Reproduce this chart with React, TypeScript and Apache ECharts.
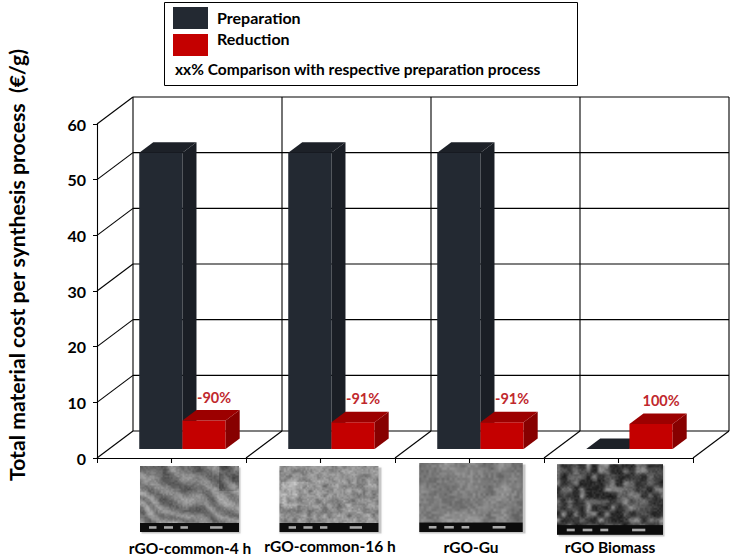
import React, { useEffect, useRef } from "react";
import * as echarts from "echarts";

const categories = ["rGO-common-4 h", "rGO-common-16 h", "rGO-Gu", "rGO Biomass"];
const preparationCost = [53.2, 53.2, 53.2, 0];
const reductionCost = [5.1, 4.8, 4.8, 4.5];
const reductionLabels = ["-90%", "-91%", "-91%", "100%"];
const yTicks = [0, 10, 20, 30, 40, 50, 60];
const seriesNames = ["Preparation", "Reduction"];
const legendNote = "xx% Comparison with respective preparation process";
const yTitle = "Total material cost per synthesis process  (€/g)";

// layout (pixels)
const DX = 36;
const DY = -27;
const BAR_OFFSET = 0.333;
const BAR_DEPTH = 0.39;
const BAR_W = 0.29;
const FONT = "Lato, 'Open Sans', sans-serif";
const DARK = { front: "#232932", side: "#1a1e25", top: "#1d2128" };
const RED = { front: "#c40000", side: "#870000", top: "#9c0000" };
const imageBoxes = [
  { x: 140, y: 466, w: 99, h: 66 },
  { x: 278, y: 466, w: 102, h: 66 },
  { x: 418, y: 463, w: 106, h: 69 },
  { x: 557, y: 464, w: 106, h: 71 },
];
const labelPos = [
  { x: 190, y: 548 },
  { x: 330, y: 546 },
  { x: 471, y: 547 },
  { x: 610, y: 547 },
];
const legendTextPos = [
  { x: 217, y: 17 },
  { x: 217, y: 38 },
];

function hash(ix: number, iy: number, s: number) {
  const v = Math.sin(ix * 127.1 + iy * 311.7 + s * 74.7) * 43758.5453;
  return v - Math.floor(v);
}
function noise(x: number, y: number, s: number) {
  const ix = Math.floor(x), iy = Math.floor(y);
  const fx = x - ix, fy = y - iy;
  const sx = fx * fx * (3 - 2 * fx), sy = fy * fy * (3 - 2 * fy);
  const a = hash(ix, iy, s), b = hash(ix + 1, iy, s);
  const c = hash(ix, iy + 1, s), d = hash(ix + 1, iy + 1, s);
  return a + (b - a) * sx + (c - a) * sy + (a - b - c + d) * sx * sy;
}
function makeTexture(kind: number): string {
  const W = 120, H = 80;
  const cv = document.createElement("canvas");
  cv.width = W;
  cv.height = H;
  const ctx = cv.getContext("2d");
  if (!ctx) return "";
  const img = ctx.createImageData(W, H);
  for (let y = 0; y < H; y++) {
    for (let x = 0; x < W; x++) {
      let v = 0;
      if (kind === 0) {
        v = 105 + 45 * noise(x / 14, y / 14, 1) +
          22 * Math.sin((x * 0.5 - y * 0.9) * 0.3 + 6 * noise(x / 25, y / 25, 2)) +
          30 * (noise(x / 2, y / 2, 3) - 0.5);
        if (x > 95 && y < 30) v -= 50 * noise(x / 8, y / 8, 9);
      } else if (kind === 1) {
        v = 115 + 55 * noise(x / 6, y / 6, 4) + 34 * (noise(x / 2, y / 2, 5) - 0.5);
        if (x < 35 && y > 18 && y < 48) v += 35 * noise(x / 5, y / 5, 11);
      } else if (kind === 2) {
        v = 100 + 55 * noise(x / 16, y / 16, 6) + 30 * (noise(x / 3, y / 3, 7) - 0.5);
      } else {
        const n = noise(x / 7, y / 7, 8);
        v = 40 + 110 * n * n + 30 * (noise(x / 2, y / 2, 10) - 0.5);
      }
      if (y >= H - 11) {
        v = 12;
        if (y >= H - 7 && y <= H - 5 && ((x > 10 && x < 20) || (x > 28 && x < 40) || (x > 48 && x < 58) || (x > 84 && x < 100))) v = 170;
      }
      v = Math.max(0, Math.min(255, v));
      const k = (y * W + x) * 4;
      img.data[k] = v;
      img.data[k + 1] = v;
      img.data[k + 2] = v;
      img.data[k + 3] = 255;
    }
  }
  ctx.putImageData(img, 0, 0);
  return cv.toDataURL("image/png");
}

function barRender(side: number, colors: any, labels: string[] | null) {
  return (params: any, api: any) => {
    const i = api.value(0);
    const v = api.value(1);
    const base = api.coord([i, 0]);
    const top = api.coord([i, v]);
    const bw = api.size([1, 0])[0];
    const w = bw * BAR_W;
    const cx = base[0] - bw * 0.007;
    const x0 = side < 0 ? cx - w : cx;
    const x1 = side < 0 ? cx : cx + w;
    const ox = DX * BAR_OFFSET, oy = DY * BAR_OFFSET;
    const ddx = DX * BAR_DEPTH, ddy = DY * BAR_DEPTH;
    const xa = x0 + ox, xb = x1 + ox;
    const yb = base[1] + oy, yt = top[1] + oy;
    const children: any[] = [
      {
        type: "polygon",
        shape: { points: [[xa, yb], [xb, yb], [xb, yt], [xa, yt]] },
        style: { fill: colors.front },
      },
      {
        type: "polygon",
        shape: { points: [[xb, yb], [xb + ddx, yb + ddy], [xb + ddx, yt + ddy], [xb, yt]] },
        style: { fill: colors.side },
      },
      {
        type: "polygon",
        shape: { points: [[xa, yt], [xb, yt], [xb + ddx, yt + ddy], [xa + ddx, yt + ddy]] },
        style: { fill: colors.top },
      },
    ];
    if (labels) {
      children.push({
        type: "text",
        x: (xa + xb) / 2 + ddx / 2 + 3,
        y: yt + ddy - 13,
        style: {
          text: labels[params.dataIndex],
          fill: "#c0282d",
          font: `bold 14.5px ${FONT}`,
          textAlign: "center",
          textVerticalAlign: "middle",
        },
      });
    }
    return { type: "group", children };
  };
}

function frameRender(params: any, api: any) {
  const bw = api.size([1, 0])[0];
  const n = categories.length;
  const leftX = api.coord([0, 0])[0] - bw / 2;
  const rightX = api.coord([n - 1, 0])[0] + bw / 2;
  const y0 = api.coord([0, yTicks[0]])[1];
  const yTop = api.coord([0, yTicks[yTicks.length - 1]])[1];
  const ln = (x1: number, y1: number, x2: number, y2: number) => ({
    type: "line",
    shape: { x1, y1, x2, y2 },
    style: { stroke: "#000", lineWidth: 1.1 },
  });
  const out: any[] = [];
  yTicks.forEach((t) => {
    const y = api.coord([0, t])[1];
    out.push(ln(leftX, y, leftX + DX, y + DY));
    out.push(ln(leftX + DX, y + DY, rightX + DX, y + DY));
  });
  for (let k = 0; k <= n; k++) {
    const bx = leftX + k * bw;
    out.push(ln(bx + DX, y0 + DY, bx + DX, yTop + DY));
    if (k > 0) out.push(ln(bx, y0, bx + DX, y0 + DY));
  }
  categories.forEach((_, i) => {
    const c = api.coord([i, 0]);
    out.push(ln(c[0], c[1], c[0], c[1] + 5));
  });
  return { type: "group", children: out };
}

export default function App() {
  const ref = useRef<HTMLDivElement>(null);
  useEffect(() => {
    if (!ref.current) return;
    const chart = echarts.init(ref.current, null, { renderer: "svg" });
    const textures = [0, 1, 2, 3].map((k) => makeTexture(k));
    const graphics: any[] = [
      {
        type: "rect",
        shape: { x: 164.5, y: 2.5, width: 413, height: 83 },
        style: { fill: "#fff", stroke: "#000", lineWidth: 1 },
        z: -1,
      },
      {
        type: "text",
        x: 175,
        y: 69,
        style: {
          text: legendNote,
          font: `bold 15.5px ${FONT}`,
          fill: "#000",
          textVerticalAlign: "middle",
        },
      },
      {
        type: "text",
        x: 17,
        y: 265,
        rotation: Math.PI / 2,
        style: {
          text: yTitle,
          font: `bold 21.2px ${FONT}`,
          fill: "#000",
          textAlign: "center",
          textVerticalAlign: "middle",
        },
      },
    ];
    seriesNames.forEach((nm, i) => {
      graphics.push({
        type: "text",
        x: legendTextPos[i].x,
        y: legendTextPos[i].y,
        style: {
          text: nm,
          font: `bold 16px ${FONT}`,
          fill: "#000",
          textVerticalAlign: "middle",
        },
      });
    });
    imageBoxes.forEach((b, i) => {
      graphics.push({
        type: "rect",
        shape: { x: b.x + 1.5, y: b.y + 1.5, width: b.w, height: b.h },
        style: { fill: "rgba(0,0,0,0.18)", shadowBlur: 3, shadowColor: "rgba(0,0,0,0.35)" },
      });
      graphics.push({
        type: "image",
        style: { image: textures[i], x: b.x, y: b.y, width: b.w, height: b.h },
      });
    });
    categories.forEach((c, i) => {
      graphics.push({
        type: "text",
        x: labelPos[i].x,
        y: labelPos[i].y,
        style: {
          text: c,
          font: `bold 15.5px ${FONT}`,
          fill: "#000",
          textAlign: "center",
          textVerticalAlign: "middle",
        },
      });
    });

    chart.setOption({
      animation: false,
      backgroundColor: "#fff",
      textStyle: { fontFamily: FONT },
      grid: { left: 97, right: 44, top: 124, bottom: 98, containLabel: false },
      legend: {
        orient: "vertical",
        left: 173,
        top: 7,
        itemWidth: 35,
        itemHeight: 22,
        itemGap: 5,
        icon: "rect",
        padding: 0,
        selectedMode: false,
        formatter: () => "",
        textStyle: { fontSize: 1 },
        data: seriesNames,
      },
      xAxis: {
        type: "category",
        data: categories,
        axisLine: { show: true, lineStyle: { color: "#000", width: 1.1 } },
        axisTick: { show: true, length: 5, lineStyle: { color: "#000" } },
        axisLabel: { show: false },
        splitLine: { show: false },
      },
      yAxis: {
        type: "value",
        min: 0,
        max: 60,
        interval: 10,
        axisLine: { show: true, lineStyle: { color: "#000", width: 1.1 } },
        axisTick: { show: true, length: 4, lineStyle: { color: "#000" } },
        axisLabel: {
          color: "#000",
          fontWeight: "bold",
          fontSize: 16,
          fontFamily: FONT,
          margin: 11,
        },
        splitLine: { show: false },
      },
      graphic: graphics,
      series: [
        {
          type: "custom",
          name: "frame",
          silent: true,
          clip: false,
          data: [[0, 0]],
          renderItem: frameRender,
        },
        {
          type: "custom",
          name: seriesNames[0],
          clip: false,
          itemStyle: { color: DARK.front },
          data: preparationCost.map((v, i) => [i, v]),
          renderItem: barRender(-1, DARK, null),
        },
        {
          type: "custom",
          name: seriesNames[1],
          clip: false,
          itemStyle: { color: RED.front },
          data: reductionCost.map((v, i) => [i, v]),
          renderItem: barRender(1, RED, reductionLabels),
        },
      ],
    });
    return () => chart.dispose();
  }, []);
  return (
    <div
      ref={ref}
      style={{ position: "absolute", left: 0, top: 0, width: 737, height: 556 }}
    />
  );
}
